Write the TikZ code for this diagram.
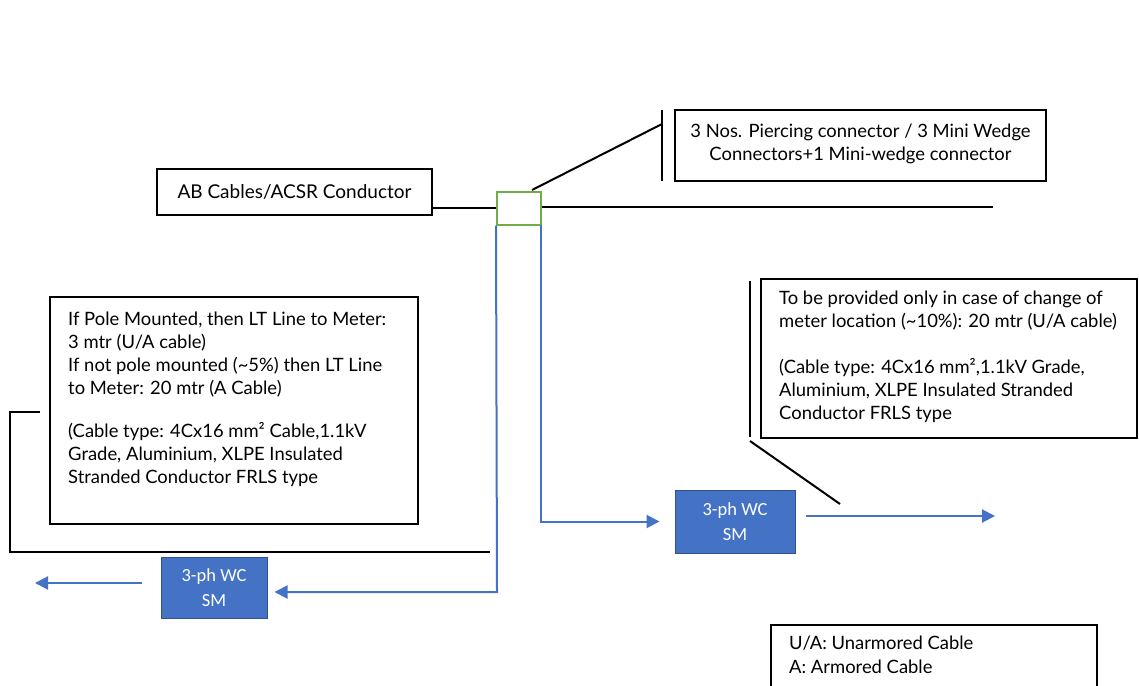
\documentclass[tikz,border=0pt]{standalone}
\usepackage{fontspec}
\setmainfont{Lato}
\newfontfamily\smfont{Carlito}
\usetikzlibrary{arrows.meta,calc}
\definecolor{offblue}{HTML}{4472C4}
\definecolor{darkblue}{HTML}{2F528F}
\definecolor{offgreen}{HTML}{70AD47}
\begin{document}
\begin{tikzpicture}[x=1pt,y=-1pt,
  box/.style={draw=black,line width=2pt,fill=white,inner sep=0pt},
  txt/.style={inner sep=0pt,align=left,font=\fontsize{18.4}{23}\selectfont},
  blk/.style={draw=black,line width=2pt},
  bl/.style={draw=offblue,line width=2pt},
  arr/.style={bl,-{Triangle[length=13pt,width=13pt]}},
  sm/.style={draw=darkblue,line width=1pt,fill=offblue,text=white,align=center,
    font=\smfont\fontsize{18.5}{25}\selectfont,inner sep=0pt}]
\clip (0,0) rectangle (1139,685);
\fill[white] (0,0) rectangle (1139,685);
% AB cables box
\node[box,minimum width=275pt,minimum height=46pt,font=\fontsize{19}{23}\selectfont] (ab) at (294.5,192) {AB Cables/ACSR Conductor};
% green connector
\node[draw=offgreen,line width=2pt,minimum width=44pt,minimum height=33pt,inner sep=0pt] (gb) at (519,208) {};
\coordinate (lineend) at (993,207);
\draw[blk] (ab.east |- gb.west) -- (gb.west);
\draw[blk] (gb.east |- lineend) -- (lineend);
% top right callout
\node[box,minimum width=371pt,minimum height=71pt] (pc) at (860.5,145.5) {};
\node[txt,align=center] (pct) at (860.5,144) {3 Nos. Piercing connector / 3 Mini Wedge\\Connectors+1 Mini-wedge connector};
\coordinate (c1a) at (532,190);
\coordinate (c1b) at (662,124);
\coordinate (c1t) at (662,110);
\coordinate (c1u) at (662,181);
\draw[blk] (c1a) -- (c1b);
\draw[blk] (c1t) -- (c1u);
% left box
\node[box,minimum width=368pt,minimum height=227pt] (lb) at (234,410.5) {};
\node[txt,anchor=north west] (lbt) at (68,312) {If Pole Mounted, then LT Line to Meter:\\3 mtr (U/A cable)\\If not pole mounted (\textasciitilde5\%) then LT Line\\to Meter: 20 mtr (A Cable)\\[20pt](Cable type: 4Cx16 mm² Cable,1.1kV\\Grade, Aluminium, XLPE Insulated\\Stranded Conductor FRLS type};
\coordinate (b1) at (40,412);
\coordinate (b2) at (10,412);
\coordinate (b3) at (10,552);
\coordinate (b4) at (490,552);
\draw[blk] (b1) -- (b2) -- (b3) -- (b4);
% right box
\node[box,minimum width=376pt,minimum height=159pt] (rb) at (949,358.5) {};
\node[txt,anchor=north west] (rbt) at (779,291) {To be provided only in case of change of\\meter location (\textasciitilde10\%): 20 mtr (U/A cable)\\[23pt](Cable type: 4Cx16 mm²,1.1kV Grade,\\Aluminium, XLPE Insulated Stranded\\Conductor FRLS type};
\coordinate (r1) at (750,281);
\coordinate (r2) at (750,437);
\coordinate (r3) at (750,441);
\coordinate (r4) at (840,504);
\draw[blk] (r1) -- (r2);
\draw[blk] (r3) -- (r4);
% smart meters
\node[sm,minimum width=106pt,minimum height=61pt] (sm1) at (214,587.5) {3-ph WC\\SM};
\node[sm,minimum width=120pt,minimum height=63pt] (sm2) at (735,521.5) {3-ph WC\\SM};
\coordinate (d1) at (497,592);
\coordinate (d2) at (541,521.5);
\draw[arr] (gb.south west) -- (d1) -- ($(sm1.east |- d1)+(7,0)$);
\draw[arr] (gb.south east) -- (d2 |- gb.south) -- (d2) -- ($(sm2.west)+(-15,0)$);
\coordinate (o1) at (35,583);
\coordinate (o2) at (995,516);
\draw[arr] ($(sm1.west)+(-19,-4.5)$) -- (o1);
\draw[arr] ($(sm2.east)+(10,-5.5)$) -- (o2);
% legend
\node[box,minimum width=326pt,minimum height=70pt] (lg) at (934,660) {};
\node[txt,anchor=north west,font=\fontsize{18.4}{24}\selectfont] (lgt) at (789,636) {U/A: Unarmored Cable\\A: Armored Cable};
\end{tikzpicture}
\end{document}
